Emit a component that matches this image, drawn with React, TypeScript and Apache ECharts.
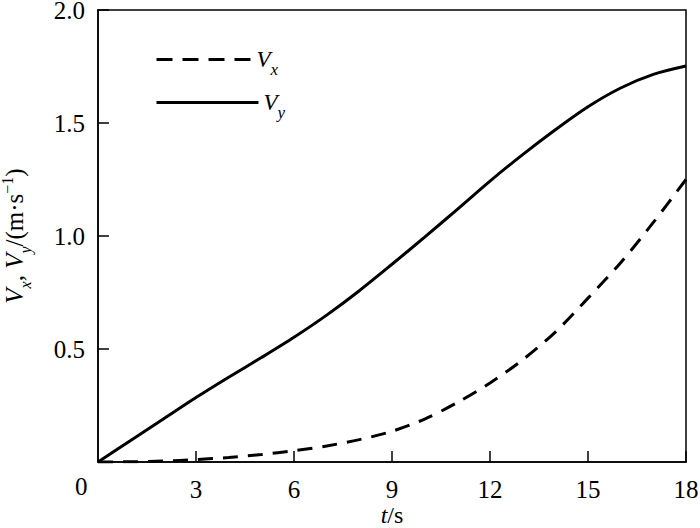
import React, { useEffect, useRef } from "react";
import * as echarts from "echarts";

const tValues = [0, 1, 2, 3, 4, 5, 6, 7, 8, 9, 10, 11, 12, 13, 14, 15, 16, 17, 18];
const vxValues = [0, 0.001, 0.004, 0.011, 0.02, 0.033, 0.05, 0.071, 0.099, 0.136, 0.19, 0.263, 0.35, 0.452, 0.575, 0.725, 0.882, 1.06, 1.25];
const vyValues = [0, 0.095, 0.19, 0.285, 0.375, 0.462, 0.552, 0.65, 0.758, 0.875, 0.995, 1.118, 1.243, 1.36, 1.47, 1.572, 1.655, 1.715, 1.752];
const seriesNames = ["Vx", "Vy"];
const xTicks = { min: 0, max: 18, interval: 3 };
const yTicks = { min: 0, max: 2, interval: 0.5 };

const FONT = "Liberation Serif";

const richText = (size: number, subSize: number, lh: number) => ({
  i: { fontFamily: FONT, fontStyle: "italic", fontSize: size, lineHeight: lh, color: "#000" },
  n: { fontFamily: FONT, fontSize: size, lineHeight: lh, color: "#000" },
  sub: { fontFamily: FONT, fontStyle: "italic", fontSize: subSize, lineHeight: subSize, verticalAlign: "bottom", color: "#000" },
  sup: { fontFamily: FONT, fontSize: subSize, lineHeight: subSize, verticalAlign: "top", padding: [4, 0, 0, 0], color: "#000" },
});

export default function App() {
  const ref = useRef<HTMLDivElement>(null);
  useEffect(() => {
    document.body.style.margin = "0";
    const chart = echarts.init(ref.current!, null, { renderer: "svg" });
    const legendRich = richText(23, 17, 36);
    const legendFormatter = (name: string) => `{i|V}{sub|${name.slice(1)}}`;
    const legendCommon = {
      left: 155,
      padding: 0,
      itemHeight: 20,
      itemGap: 13,
      formatter: legendFormatter,
      textStyle: { rich: legendRich },
      itemStyle: { color: "rgba(0,0,0,0)", borderWidth: 0, opacity: 0 },
    };
    chart.setOption({
      animation: false,
      backgroundColor: "#fff",
      grid: {
        left: 98,
        right: 14,
        top: 10,
        bottom: 66,
        show: true,
        borderColor: "#000",
        borderWidth: 1.5,
        outerBoundsMode: "none",
        containLabel: false,
      },
      legend: [
        {
          ...legendCommon,
          data: [seriesNames[0]],
          top: 48,
          itemWidth: 95,
          lineStyle: { color: "#000", width: 3, type: [16, 10] },
        },
        {
          ...legendCommon,
          data: [seriesNames[1]],
          top: 91,
          itemWidth: 102,
          itemGap: 6,
          lineStyle: { color: "#000", width: 3, type: "solid" },
        },
      ],
      xAxis: {
        type: "value",
        min: xTicks.min,
        max: xTicks.max,
        interval: xTicks.interval,
        name: "{i|t}{n|/s}",
        nameLocation: "middle",
        nameGap: 43,
        nameMoveOverlap: false,
        nameTextStyle: { rich: richText(24, 16, 20) },
        axisLine: { lineStyle: { color: "#000", width: 1.5 } },
        axisTick: { inside: true, length: 11, lineStyle: { color: "#000", width: 1.5 } },
        axisLabel: {
          showMinLabel: false,
          margin: 16,
          fontFamily: FONT,
          fontSize: 25,
          lineHeight: 22,
          color: "#000",
        },
        splitLine: { show: false },
      },
      yAxis: {
        type: "value",
        min: yTicks.min,
        max: yTicks.max,
        interval: yTicks.interval,
        name: "{i|V}{sub|x}{n|, }{i|V}{sub|y}{n|/(m·s}{sup|−1}{n|)}",
        nameLocation: "middle",
        nameGap: 65,
        nameRotate: 90,
        nameTextStyle: { rich: richText(25, 16, 38) },
        axisLine: { lineStyle: { color: "#000", width: 1.5 } },
        axisTick: { inside: true, length: 11, lineStyle: { color: "#000", width: 1.5 } },
        axisLabel: {
          showMinLabel: false,
          margin: 13,
          fontFamily: FONT,
          fontSize: 25,
          lineHeight: 16,
          color: "#000",
          formatter: (v: number) => v.toFixed(1),
        },
        splitLine: { show: false },
      },
      graphic: [
        {
          type: "text",
          left: 75,
          top: 474,
          style: { text: "0", font: `25px ${FONT}`, fill: "#000" },
        },
      ],
      series: [
        {
          name: seriesNames[0],
          type: "line",
          data: tValues.map((t, i) => [t, vxValues[i]]),
          smooth: 0.3,
          showSymbol: false,
          symbol: "none",
          lineStyle: { color: "#000", width: 3, type: [15, 10] },
          itemStyle: { color: "#000" },
        },
        {
          name: seriesNames[1],
          type: "line",
          data: tValues.map((t, i) => [t, vyValues[i]]),
          smooth: 0.3,
          showSymbol: false,
          symbol: "none",
          lineStyle: { color: "#000", width: 3 },
          itemStyle: { color: "#000" },
        },
      ],
    });
    return () => chart.dispose();
  }, []);
  return <div ref={ref} style={{ width: 700, height: 528 }} />;
}
